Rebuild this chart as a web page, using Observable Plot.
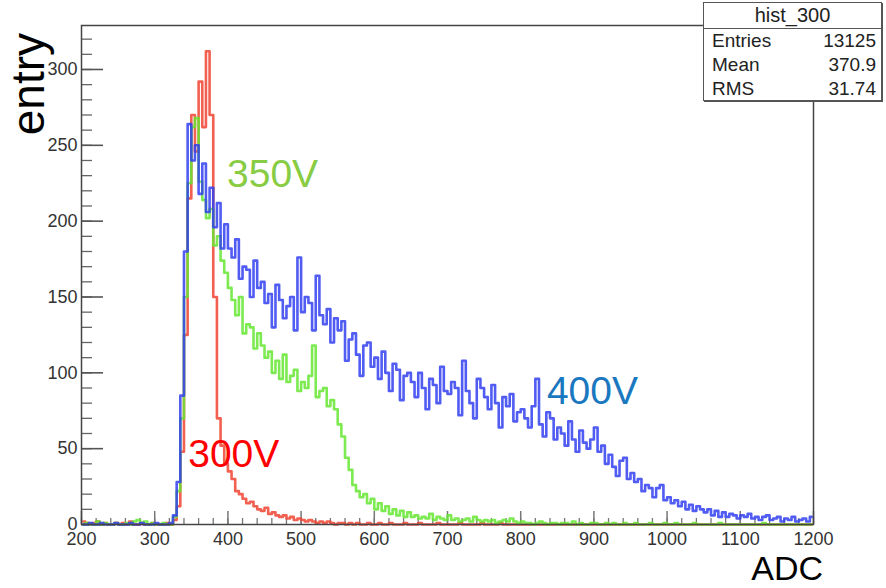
<!DOCTYPE html>
<html><head><meta charset="utf-8">
<script src="https://cdn.jsdelivr.net/npm/d3@7"></script>
<script src="https://cdn.jsdelivr.net/npm/@observablehq/plot@0.6"></script>
<style>
body{margin:0;background:#fff;}
#wrap{position:relative;width:886px;height:588px;font-family:"Liberation Sans",Arial,sans-serif;}
#stats{position:absolute;left:703px;top:2px;width:177px;height:97px;border:1.5px solid #555;background:#fff;box-shadow:1px 1px 0 #555;color:#222;font-size:19px;line-height:24px;}
#stats .t{height:25px;border-bottom:1.5px solid #555;text-align:center;line-height:25px;font-size:20px;}
#stats .r{display:flex;justify-content:space-between;padding:0 5px 0 8px;}
</style>
</head><body>
<div id="wrap">
  <div id="stats">
    <div class="t">hist_300</div>
    <div class="r"><span>Entries</span><span>13125</span></div>
    <div class="r"><span>Mean</span><span>370.9</span></div>
    <div class="r"><span>RMS</span><span>31.74</span></div>
  </div>
</div>
<script>
// Histogram bins: start 200 ADC, width 5 ADC, 200 bins
const binStart = 200, binWidth = 5;

const counts300 = [
  2,1,0,1,2,0,1,0,0,1,0,1,0,2,0,0,1,0,0,1,0,0,0,1,0,
  3,12,48,125,215,270,246,292,262,312,270,150,70,52,40,
  35,30,22,20,17,14,15,12,10,9,
  11,7,8,6,5,6,4,5,3,4,
  3,2,3,2,1,2,1,2,1,0,
  1,1,0,1,0,1,0,0,1,0,
  0,1,0,0,1,0,0,0,1,0,
  0,0,1,0,0,0,0,1,0,0,
  0,0,0,1,0,0,0,0,0,1,
  0,0,0,0,1,0,0,0,0,0,
  0,0,0,0,0,0,0,0,0,0,
  0,0,0,0,0,0,0,0,0,0,
  0,0,0,0,0,0,0,0,0,0,
  0,0,0,0,0,0,0,0,0,0,
  0,0,0,0,0,0,0,0,0,0,
  0,0,0,0,0,0,0,0,0,0,
  0,0,0,0,0,0,0,0,0,0,
  0,0,0,0,0,0,0,0,0,0
];
const counts350 = [
  0,1,0,0,2,0,1,0,0,1,0,0,1,0,2,3,1,2,0,1,0,0,1,0,0,
  5,22,70,150,225,262,268,226,214,202,208,184,190,174,166,
  156,148,138,150,126,132,130,116,126,118,
  110,114,100,108,96,112,94,98,102,88,
  94,90,98,118,84,88,90,78,82,76,
  66,58,44,36,26,22,18,20,14,17,
  10,14,9,12,7,10,6,9,5,8,
  5,6,4,5,4,7,3,5,4,3,
  6,3,4,2,3,4,2,5,3,2,
  3,2,3,1,2,3,2,4,2,1,
  2,1,1,0,1,2,1,0,1,1,
  0,1,1,0,2,0,1,0,0,1,
  1,0,0,1,0,1,0,0,1,0,
  0,1,0,0,0,1,0,0,0,1,
  0,0,1,0,0,0,0,1,0,0,
  0,0,0,0,1,0,0,0,0,0,
  0,0,0,0,0,0,1,0,0,0,
  0,0,0,0,0,0,0,0,0,0
];
const counts400 = [
  0,0,1,0,0,1,0,0,0,1,0,0,0,1,0,0,1,0,0,0,1,0,0,0,1,
  6,28,85,180,264,240,250,218,238,206,222,196,212,182,198,
  182,176,188,162,170,168,150,174,156,160,
  146,152,130,158,148,136,144,150,128,176,
  140,150,146,128,164,138,132,142,120,136,
  128,134,108,122,126,112,98,118,120,104,
  110,96,114,100,88,106,102,82,98,100,
  94,84,100,90,76,96,92,80,104,88,
  86,94,90,72,108,88,80,70,96,90,
  84,76,92,80,64,84,78,86,68,74,
  76,70,64,78,96,66,58,74,70,56,
  64,60,52,68,56,48,62,54,50,56,
  64,48,52,40,46,38,32,42,44,30,
  34,28,30,22,26,24,18,24,26,16,
  18,14,16,12,15,10,13,9,12,10,
  8,10,6,9,5,8,5,7,6,4,
  6,5,7,4,5,3,5,6,3,4,
  5,2,4,3,5,2,3,4,2,5
];

const seriesNames = ["300V", "350V", "400V"];
const seriesColors = ["#ee4433", "#66e633", "#3340f0"];
const labelColors = ["#ff0000", "#88cc44", "#1a78c0"];
const labelX = [408, 461, 898];
const labelY = [46, 231, 88];

const xMajor = [200,300,400,500,600,700,800,900,1000,1100,1200];
const yMajor = [0,50,100,150,200,250,300];
const xMinor = d3.range(200, 1201, 20);
const yMinor = d3.range(0, 321, 10);

const toRows = (arr) => arr.map((v, i) => ({adc: binStart + binWidth * (i + 0.5), n: v}));
const allCounts = [counts300, counts350, counts400];
const labels = seriesNames.map((s, i) => ({s, x: labelX[i], y: labelY[i], c: labelColors[i]}));

const W = 886, H = 588, mL = 81, mR = 73, mT = 25, mB = 64;
const pw = W - mL - mR, ph = H - mT - mB;

const chart = Plot.plot({
  width: W, height: H,
  marginLeft: mL, marginRight: mR, marginTop: mT, marginBottom: mB,
  x: {domain: [200, 1200], label: null},
  y: {domain: [0, 329], label: null},
  style: {fontFamily: "Liberation Sans, Arial, sans-serif", fontSize: "18px", color: "#333", background: "#fff"},
  marks: [
    Plot.ruleX(xMinor, {x: d => d, insetTop: ph - 6, stroke: "#777", strokeWidth: 1.3}),
    Plot.ruleX(xMajor, {x: d => d, insetTop: ph - 13, stroke: "#777", strokeWidth: 1.5}),
    Plot.ruleY(yMinor, {y: d => d, insetRight: pw - 11, stroke: "#666", strokeWidth: 1.3}),
    Plot.ruleY(yMajor, {y: d => d, insetRight: pw - 22, stroke: "#555", strokeWidth: 1.6}),
    ...allCounts.map((arr, i) => Plot.lineY(toRows(arr), {x: "adc", y: "n", curve: "step", stroke: seriesColors[i], strokeWidth: 2.6, strokeOpacity: 0.85})),
    Plot.text(labels, {x: "x", y: "y", text: "s", fill: "c", fontSize: 39, fontFamily: "Liberation Sans, Arial, sans-serif"}),
    Plot.axisX({ticks: xMajor, tickSize: 0, tickPadding: 8, tickFormat: d => String(d), label: null, fill: "#333"}),
    Plot.axisY({ticks: yMajor, tickSize: 0, tickPadding: 4, tickFormat: d => String(d), label: null, fill: "#333"}),
    Plot.frame({stroke: "#444", strokeWidth: 1.5})
  ]
});

const wrap = document.getElementById("wrap");
wrap.insertBefore(chart, wrap.firstChild);
const svg = d3.select(chart);
svg.append("text").attr("transform", "translate(44,33) rotate(-90)")
  .attr("text-anchor", "end").attr("font-size", 46).attr("fill", "#000").text("entry");
svg.append("text").attr("x", 823).attr("y", 580)
  .attr("text-anchor", "end").attr("font-size", 34).attr("fill", "#000").text("ADC");
</script>
</body></html>
